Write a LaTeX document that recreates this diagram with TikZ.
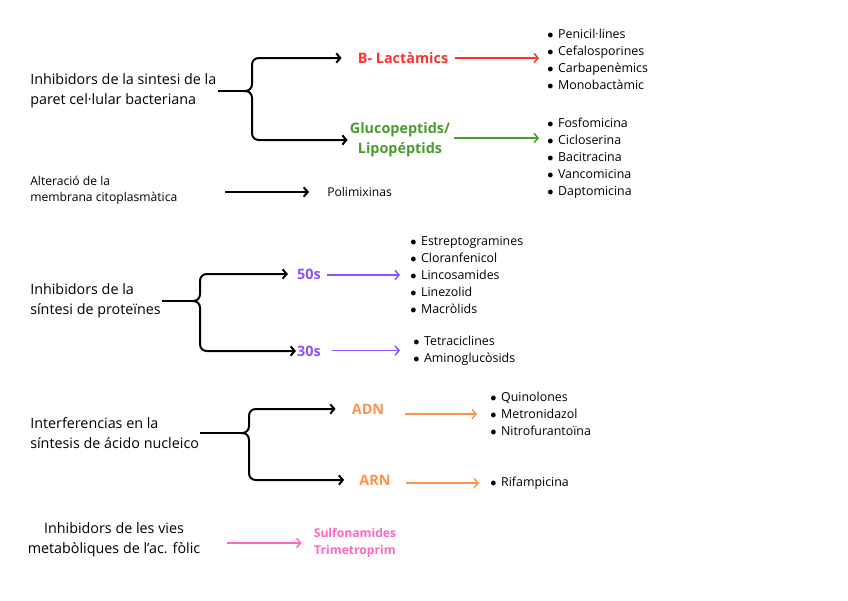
\documentclass[tikz,border=0pt]{standalone}
\usepackage{fontspec}
\setmainfont{Open Sans}
\usetikzlibrary{arrows.meta}

\definecolor{lactRed}{HTML}{FF3131}
\definecolor{gluGreen}{HTML}{4A9C2D}
\definecolor{riboPurple}{HTML}{8C52FF}
\definecolor{nuclOrange}{HTML}{FF914D}
\definecolor{folPink}{HTML}{FF66C4}

\tikzset{
  maintxt/.style={anchor=west,inner sep=0.75pt,align=left,font=\fontsize{10.75}{15}\selectfont},
  smalltxt/.style={anchor=west,inner sep=0.75pt,align=left,font=\fontsize{9.1}{12}\selectfont},
  listtxt/.style={anchor=west,inner sep=0.75pt,align=left,font=\fontsize{9.3}{12.75}\selectfont},
  lbl/.style={inner sep=0.75pt,align=center,font=\fontsize{10.8}{15}\bfseries\selectfont},
  lblsm/.style={inner sep=0.75pt,align=center,font=\fontsize{9.1}{12.75}\bfseries\selectfont},
  brace/.style={line width=1.5pt,rounded corners=5pt},
  blkarr/.style={line width=1.5pt,-{Straight Barb[length=3pt,width=7pt]}},
  colarr/.style={line width=1.1pt,-{Straight Barb[length=3pt,width=7pt]}},
}
\newcommand{\bul}{$\bullet$\hspace{3.5pt}}

\begin{document}
\begin{tikzpicture}[x=0.75pt,y=0.75pt,yscale=-1,xscale=1]
\useasboundingbox (0,0) rectangle (848,600);

% Text Node
\node (inhPar) at (29,91) [maintxt] {Inhibidors de la sintesi de la\\paret cel·lular bacteriana};
% Text Node
\node (lact) at (403,58) [lbl,text=lactRed] {B- Lactàmics};
% Text Node
\node (glu) at (400,140) [lbl,text=gluGreen] {Glucopeptids/\\Lipopéptids};
% Text Node
\node (pen) at (546,59) [listtxt] {\bul Penicil·lines\\\bul Cefalosporines\\\bul Carbapenèmics\\\bul Monobactàmic};
% Text Node
\node (fos) at (546,158.5) [listtxt] {\bul Fosfomicina\\\bul Cicloserina\\\bul Bacitracina\\\bul Vancomicina\\\bul Daptomicina};

% Text Node
\node (alt) at (29,190) [smalltxt] {Alteració de la\\membrana citoplasmàtica};
% Text Node
\node (poli) at (326,192) [smalltxt] {Polimixinas};

% Text Node
\node (inhProt) at (29,301) [maintxt] {Inhibidors de la\\síntesi de proteïnes};
% Text Node
\node (n50) at (309,274) [lbl,text=riboPurple] {50s};
% Text Node
\node (n30) at (309,351) [lbl,text=riboPurple] {30s};
% Text Node
\node (estr) at (409,275) [listtxt] {\bul Estreptogramines\\\bul Cloranfenicol\\\bul Lincosamides\\\bul Linezolid\\\bul Macròlids};
% Text Node
\node (tetra) at (412,350.5) [listtxt] {\bul Tetraciclines\\\bul Aminoglucòsids};

% Text Node
\node (interf) at (29,433) [maintxt] {Interferencias en la\\síntesis de ácido nucleico};
% Text Node
\node (adn) at (368,409) [lbl,text=nuclOrange] {ADN};
% Text Node
\node (arn) at (375,480) [lbl,text=nuclOrange] {ARN};
% Text Node
\node (quin) at (489,414) [listtxt] {\bul Quinolones\\\bul Metronidazol\\\bul Nitrofurantoïna};
% Text Node
\node (rif) at (489,483) [listtxt] {\bul Rifampicina};

% Text Node
\node (fol) at (114,540) [maintxt,anchor=center,align=center] {Inhibidors de les vies\\metabòliques de l’ac. fòlic};
% Text Node
\node (sulf) at (355,543) [lblsm,text=folPink] {Sulfonamides\\Trimetroprim};

% brace knots
\coordinate (k1) at (244,91);
\coordinate (k3) at (192,301);
\coordinate (k4) at (241,433);

%Brace: paret
\draw [line width=1.5pt] (inhPar.east) -- (k1);
\draw [brace,blkarr,shorten >=11.25pt] (k1) -- ++(8,0) |- (lact.west);
\draw [brace,blkarr,shorten >=0.75pt] (k1) -- ++(8,0) |- (glu.west);
%Straight Lines
\draw [colarr,lactRed,shorten <=4.5pt,shorten >=5.25pt] (lact.east) -- (lact.east -| pen.west);
\draw [colarr,gluGreen,shorten <=2.25pt,shorten >=5.25pt] ([yshift=-1.5pt]glu.east) -- ([yshift=-1.5pt]glu.east -| fos.west);

%Straight Lines: membrana
\draw [blkarr,shorten <=35pt,shorten >=12.75pt] (alt.east |- poli.west) -- (poli.west);

%Brace: proteines
\draw [line width=1.5pt] (inhProt.east) -- (k3);
\draw [brace,blkarr,shorten >=6pt] (k3) -- ++(8,0) |- (n50.west);
\draw [brace,blkarr] (k3) -- ++(8,0) |- (n30.west);
%Straight Lines
\draw [colarr,riboPurple,shorten <=3.75pt,shorten >=6.75pt] (n50.east |- estr.west) -- (estr.west);
\draw [colarr,riboPurple,shorten <=7.5pt,shorten >=9pt] (n30.east |- tetra.west) -- (tetra.west);

%Brace: nucleic
\draw [line width=1.5pt] (interf.east) -- (k4);
\draw [brace,blkarr,shorten >=11.25pt] (k4) -- ++(8,0) |- (adn.west);
\draw [brace,blkarr,shorten >=10.5pt] (k4) -- ++(8,0) |- (arn.west);
%Straight Lines
\draw [colarr,nuclOrange,shorten <=15pt,shorten >=9pt] (adn.east |- quin.west) -- (quin.west);
\draw [colarr,nuclOrange,shorten <=10.5pt,shorten >=7.5pt] (arn.east |- rif.west) -- (rif.west);

%Straight Lines: folic
\draw [colarr,folPink,shorten <=18.75pt,shorten >=8.25pt] (sulf.west -| fol.east) -- (sulf.west);

\end{tikzpicture}
\end{document}
